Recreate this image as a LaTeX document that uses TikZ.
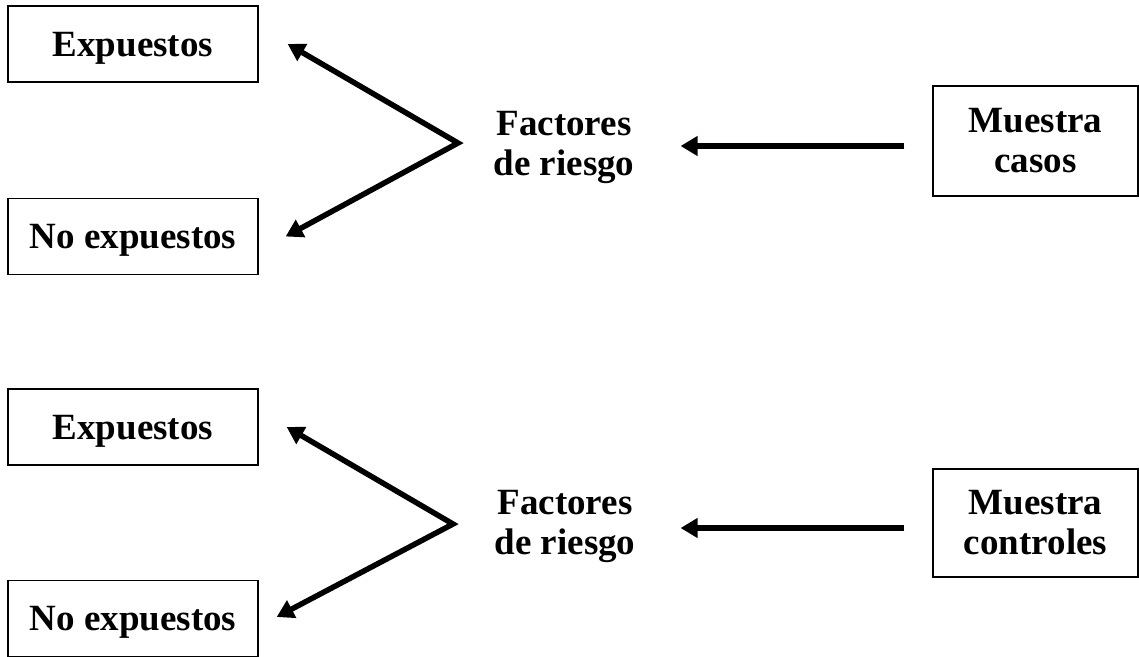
\documentclass[tikz,border=0pt]{standalone}
\usepackage{fontspec}
\setmainfont{Liberation Serif}
\usetikzlibrary{arrows.meta}
\begin{document}
\begin{tikzpicture}[x=1pt,y=-1pt,
  lbl/.style={font=\fontsize{37}{40}\selectfont\bfseries, align=center, inner sep=0pt},
  sbox/.style={lbl, draw, line width=1.3pt, minimum width=250pt, minimum height=76pt, text depth=0pt},
  mbox/.style={lbl, draw, line width=1.3pt, minimum width=205pt},
  tipA/.tip={Triangle[length=17pt,width=19pt]},
  arr/.style={line width=5.5pt, -tipA},
  darr/.style={line width=5.5pt, tipA-tipA}]
\useasboundingbox (0,0) rectangle (1139,656);
% top diagram
\node[sbox] (e1) at (133,44) {Expuestos};
\node[sbox] (n1) at (133,236.5) {No expuestos};
\node[lbl] (f1) at (564,147) {Factores\\de riesgo};
\node[mbox, minimum height=110pt] (m1) at (1035.5,141) {Muestra\\casos};
\coordinate (v1) at (458,143);
\draw[darr] ([xshift=29pt]e1.east) -- (v1) -- ([xshift=27pt]n1.east);
\draw[arr] ([xshift=-28pt,yshift=-5pt]m1.west) -- ([xshift=46pt,yshift=1pt]f1.east);
% bottom diagram
\node[sbox] (e2) at (133,427) {Expuestos};
\node[sbox] (n2) at (133,618.5) {No expuestos};
\node[lbl] (f2) at (565,526) {Factores\\de riesgo};
\node[mbox, minimum height=108pt] (m2) at (1035.5,523) {Muestra\\controles};
\coordinate (v2) at (453,524);
\draw[darr] ([xshift=28pt]e2.east) -- (v2) -- ([xshift=18pt,yshift=1.5pt]n2.east);
\draw[arr] ([xshift=-28pt,yshift=-5pt]m2.west) -- ([xshift=45pt,yshift=-2pt]f2.east);
\end{tikzpicture}
\end{document}
